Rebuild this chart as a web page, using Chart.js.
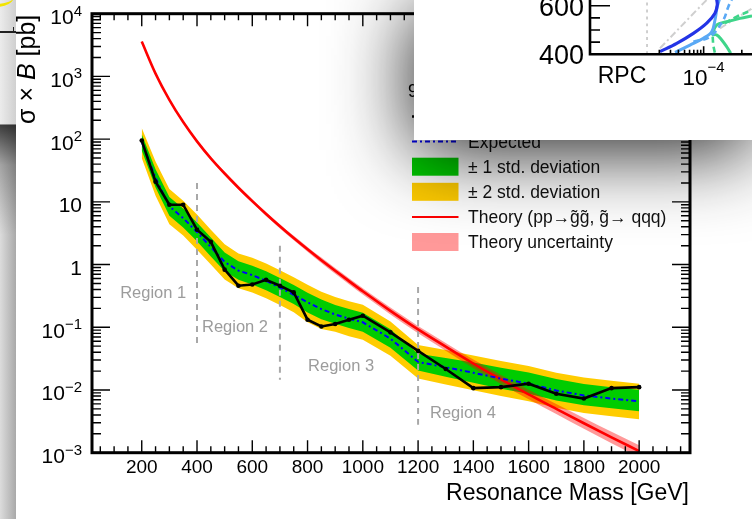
<!DOCTYPE html>
<html>
<head>
<meta charset="utf-8">
<script src="https://cdn.jsdelivr.net/npm/chart.js@4/dist/chart.umd.min.js"></script>
<style>
  html, body { margin: 0; padding: 0; background: #fff; overflow: hidden; }
  #wrap { position: relative; width: 752px; height: 519px; overflow: hidden; }
  #main { position: absolute; left: 0; top: 0; }
  #strip {
    position: absolute; left: 0; top: 0; width: 16px; height: 519px;
    background:
      linear-gradient(to bottom, rgba(0,0,0,0) 0, rgba(0,0,0,0) 124px, rgba(0,0,0,0.72) 125px, rgba(0,0,0,0.25) 165px, rgba(0,0,0,0) 235px),
      linear-gradient(to bottom, rgba(255,255,255,0.45) 0, rgba(255,255,255,0.45) 124px, rgba(255,255,255,0) 125px),
      linear-gradient(to right, #dcdcdc, #a9a9a9);
  }
  #stripLine { position: absolute; left: 0; top: 31px; width: 16px; height: 1.5px; background: #222; }
  #stripTick { position: absolute; left: 13px; top: 27px; width: 1px; height: 5px; background: #222; }
  #corner { position: absolute; left: -22px; top: -14px; width: 36px; height: 18px; border-radius: 50%; border-bottom: 3px solid #f2e400; }
  #panel {
    position: absolute; left: 414px; top: 0; width: 338px; height: 140px; background: #fff;
    box-shadow: 0 10px 80px rgba(0,0,0,0.9);
  }
  #inset { position: absolute; left: 0; top: 0; }
</style>
</head>
<body>
<div id="wrap">
  <canvas id="main" width="752" height="519"></canvas>
  <div id="strip"></div>
  <div id="stripLine"></div>
  <div id="stripTick"></div>
  <div id="corner"></div>
  <div id="panel"><canvas id="inset" width="338" height="140"></canvas></div>
</div>
<script>
// ---------- limit plot data ----------
const masses   = [200, 250, 300, 350, 400, 450, 500, 550, 600, 650, 700, 750, 800, 850, 900, 950, 1000, 1100, 1200, 1300, 1400, 1500, 1600, 1700, 1800, 1900, 2000];
const observed = [95, 21, 9.0, 9.0, 3.6, 2.3, 0.83, 0.46, 0.48, 0.57, 0.46, 0.36, 0.132, 0.103, 0.113, 0.132, 0.153, 0.083, 0.042, 0.0216, 0.0107, 0.0111, 0.0126, 0.0087, 0.0073, 0.0107, 0.0111];
const expected = [90, 24, 8.5, 5.5, 3.3, 1.9, 1.1, 0.80, 0.68, 0.55, 0.43, 0.33, 0.25, 0.195, 0.16, 0.137, 0.12, 0.066, 0.028, 0.023, 0.0188, 0.0152, 0.0126, 0.0098, 0.0082, 0.0073, 0.0066];
const plus1    = [120, 33, 12.0, 7.8, 4.7, 2.7, 1.56, 1.13, 0.96, 0.78, 0.61, 0.47, 0.355, 0.277, 0.227, 0.195, 0.170, 0.093, 0.038, 0.0325, 0.0275, 0.0226, 0.0190, 0.0149, 0.0125, 0.0111, 0.0101];
const minus1   = [66, 17, 6.0, 3.9, 2.35, 1.35, 0.78, 0.57, 0.48, 0.39, 0.305, 0.235, 0.172, 0.134, 0.114, 0.097, 0.085, 0.047, 0.0205, 0.0163, 0.0131, 0.0105, 0.0087, 0.0068, 0.0057, 0.0051, 0.0046];
const plus2    = [150, 44, 16, 10.4, 6.3, 3.6, 2.1, 1.5, 1.28, 1.04, 0.81, 0.63, 0.475, 0.37, 0.305, 0.26, 0.228, 0.124, 0.052, 0.0435, 0.0355, 0.0290, 0.0242, 0.0189, 0.0158, 0.0140, 0.0126];
const minus2   = [50, 12.5, 4.4, 2.9, 1.72, 1.0, 0.58, 0.42, 0.36, 0.29, 0.226, 0.174, 0.12, 0.094, 0.085, 0.072, 0.063, 0.035, 0.0152, 0.0122, 0.0099, 0.0080, 0.0066, 0.0052, 0.0043, 0.0038, 0.0034];
const theory     = [3600, 1109, 423, 187, 92.2, 49.4, 28.3, 16.8, 10.28, 6.41, 4.08, 2.65, 1.754, 1.175, 0.796, 0.545, 0.375, 0.183, 0.0925, 0.0490, 0.0263, 0.0148, 0.00851, 0.00501, 0.00295, 0.00176, 0.00106];
const theoryUp   = [3740, 1154, 441, 195.5, 96.6, 51.9, 29.9, 17.9, 11.0, 6.89, 4.40, 2.87, 1.91, 1.29, 0.878, 0.604, 0.418, 0.206, 0.105, 0.0562, 0.0305, 0.0173, 0.0101, 0.0060, 0.00357, 0.00215, 0.00131];
const theoryDown = [3460, 1064, 405, 178.5, 87.8, 46.9, 26.7, 15.7, 9.56, 5.93, 3.76, 2.43, 1.60, 1.06, 0.714, 0.486, 0.332, 0.160, 0.080, 0.0423, 0.0225, 0.0125, 0.00711, 0.00413, 0.00240, 0.00141, 0.00084];

// analysis region boundaries and their labels
const regionX      = [400, 700, 1200];
const regionTop    = [20, 2.0, 0.44];
const regionBottom = [0.053, 0.0146, 0.0028];
const regionNames  = ['Region 1', 'Region 2', 'Region 3', 'Region 4'];
const regionLabelX = [122, 418, 802, 1243];
const regionLabelY = [0.356, 0.102, 0.0244, 0.00434];

// axis ticks
const xTickLabels = [200, 400, 600, 800, 1000, 1200, 1400, 1600, 1800, 2000];
const yTickValues = [1e-3, 1e-2, 1e-1, 1, 10, 1e2, 1e3, 1e4];
const yTickBase   = ['10', '10', '10', '1', '10', '10', '10', '10'];
const yTickExp    = ['\u22123', '\u22122', '\u22121', '', '', '2', '3', '4'];

// legend entries
const legendHeader = '95% CL upper limits';
const legendLabels = ['Observed', 'Expected', '\u00b1 1 std. deviation', '\u00b1 2 std. deviation',
                      'Theory (pp\u2192g\u0303g\u0303, g\u0303\u2192 qqq)', 'Theory uncertainty'];

// ---------- inset (efficiency panel) data ----------
const rpcDarkX = [2.05e-5, 3.77e-5, 6.89e-5, 1.12e-4, 1.51e-4, 1.64e-4, 1.61e-4];
const rpcDarkY = [411, 445, 486, 528, 569, 603, 625];
const rpcLightX = [3.54e-5, 6.1e-5, 9.9e-5, 1.34e-4, 1.51e-4, 1.64e-4, 1.77e-4];
const rpcLightY = [408, 438, 466, 493, 541, 596, 625];
const rpcLightDashX = [6.89e-5, 1.26e-4, 2.04e-4, 2.45e-4, 2.77e-4];
const rpcLightDashY = [452, 472, 541, 596, 625];
const rpcGreenX = [1.34e-4, 1.61e-4, 2.31e-4, 3.75e-4, 5.8e-4];
const rpcGreenY = [479, 521, 534, 548, 558];
const rpcGreen2X = [1.34e-4, 1.6e-4, 1.93e-4, 2.31e-4, 2.67e-4];
const rpcGreen2Y = [479, 480, 459, 431, 404];
const rpcGreenDashX = [1.39e-4, 1.42e-4, 1.51e-4];
const rpcGreenDashY = [472, 438, 404];
const rpcGreenDash2X = [2.17e-4, 3.33e-4, 5.8e-4];
const rpcGreenDash2Y = [528, 555, 582];
const rpcGrayX = [2.05e-5, 8.77e-5, 1.13e-4];
const rpcGrayY = [425, 596, 625];
const rpcGray2X = [1.81e-4, 5.8e-4];
const rpcGray2Y = [507, 589];
const rpcCut = 1.28e-5;
const rpcYTicks = [450, 500, 550, 600];
const rpcXTicks = [2e-5, 3e-5, 4e-5, 5e-5, 6e-5, 7e-5, 8e-5, 9e-5, 1e-4, 4e-4];

const FONT = "'Liberation Sans', Arial, Helvetica, sans-serif";
const pts = (xs, ys) => xs.map((x, i) => ({ x: x, y: ys[i] }));
const massPts = ys => pts(masses, ys);

const YELLOW = '#ffcc00', GREEN = '#00cc00', PINK = 'rgba(255,0,0,0.4)';

function band(upper, lower, color, order) {
  return [
    { data: massPts(upper), fill: { target: '+1' }, backgroundColor: color, borderWidth: 0, pointRadius: 0, order: order },
    { data: massPts(lower), fill: false, borderWidth: 0, pointRadius: 0, order: order + 1 }
  ];
}

const datasets = [
  ...band(plus2, minus2, YELLOW, 20),
  ...band(plus1, minus1, GREEN, 18),
  { data: massPts(theoryUp), fill: { target: '+1' }, backgroundColor: PINK, borderWidth: 0, pointRadius: 0,
    cubicInterpolationMode: 'monotone', order: 14 },
  { data: massPts(theoryDown), fill: false, borderWidth: 0, pointRadius: 0, cubicInterpolationMode: 'monotone', order: 15 },
  ...regionX.map((rx, i) => ({
    data: [{ x: rx, y: regionTop[i] }, { x: rx, y: regionBottom[i] }],
    borderColor: '#a8a8a8', borderWidth: 2, borderDash: [6, 5], pointRadius: 0, fill: false, order: 10
  })),
  { data: massPts(theory), borderColor: '#ff0000', borderWidth: 2.6, pointRadius: 0, fill: false,
    cubicInterpolationMode: 'monotone', order: 6 },
  { data: massPts(expected), borderColor: '#0000ff', borderWidth: 2, borderDash: [5, 3, 2, 3], pointRadius: 0, fill: false, order: 4 },
  { data: massPts(observed), borderColor: '#000', borderWidth: 2.6, pointRadius: 2.3, pointBackgroundColor: '#000',
    pointBorderWidth: 0, fill: false, order: 1 }
];

// axes, tick marks, labels, region labels and legend
const rootAxes = {
  id: 'rootAxes',
  afterDraw(chart) {
    const { ctx, chartArea: a, scales: { x, y } } = chart;
    ctx.save();
    ctx.strokeStyle = '#000';
    ctx.lineWidth = 1.4;
    ctx.beginPath();
    for (let m = 50; m <= 2150; m += 50) {
      const px = x.getPixelForValue(m);
      const len = (m % 200 === 0) ? 12.5 : 6.5;
      ctx.moveTo(px, a.bottom); ctx.lineTo(px, a.bottom - len);
      ctx.moveTo(px, a.top); ctx.lineTo(px, a.top + len);
    }
    for (let e = -3; e <= 4; e++) {
      for (let k = 1; k <= 9; k++) {
        if (e === 4 && k > 1) break;
        const py = y.getPixelForValue(k * Math.pow(10, e));
        const len = k === 1 ? 18 : 9;
        ctx.moveTo(a.left, py); ctx.lineTo(a.left + len, py);
        ctx.moveTo(a.right, py); ctx.lineTo(a.right - len, py);
      }
    }
    ctx.stroke();
    ctx.lineWidth = 3;
    ctx.strokeRect(a.left, a.top, a.right - a.left, a.bottom - a.top);

    // x tick labels
    ctx.fillStyle = '#000';
    ctx.font = '19px ' + FONT;
    ctx.textAlign = 'center';
    ctx.textBaseline = 'alphabetic';
    xTickLabels.forEach(v => ctx.fillText(String(v), x.getPixelForValue(v), 472.5));

    // y tick labels with exponents
    ctx.textAlign = 'right';
    yTickValues.forEach((v, i) => {
      const py = y.getPixelForValue(v);
      const right = 82;
      ctx.font = '15px ' + FONT;
      const ew = yTickExp[i] ? ctx.measureText(yTickExp[i]).width : 0;
      if (yTickExp[i]) ctx.fillText(yTickExp[i], right, py + 2);
      ctx.font = '21px ' + FONT;
      ctx.fillText(yTickBase[i], right - ew, py + 10.5);
    });

    // axis titles
    ctx.font = '23px ' + FONT;
    ctx.textAlign = 'right';
    ctx.fillText('Resonance Mass [GeV]', a.right - 1, 500);

    ctx.save();
    ctx.translate(34.5, a.top + 1);
    ctx.rotate(-Math.PI / 2);
    ctx.textAlign = 'left';
    const parts = [['\u03c3 \u00d7 ', ''], ['B', 'italic '], [' [pb]', '']];
    let total = 0;
    parts.forEach(p => { ctx.font = p[1] + '25px ' + FONT; total += ctx.measureText(p[0]).width; });
    let cx = -total;
    parts.forEach(p => { ctx.font = p[1] + '25px ' + FONT; ctx.fillText(p[0], cx, 0); cx += ctx.measureText(p[0]).width; });
    ctx.restore();

    // region labels
    ctx.fillStyle = '#9c9c9c';
    ctx.font = '16.5px ' + FONT;
    ctx.textAlign = 'left';
    ctx.textBaseline = 'middle';
    regionNames.forEach((n, i) => ctx.fillText(n, x.getPixelForValue(regionLabelX[i]), y.getPixelForValue(regionLabelY[i]) + 1));

    // legend
    const lx = 412, lw = 46.5, tx = 468, row0 = 116.5, dy = 25.1;
    ctx.fillStyle = '#000';
    ctx.font = '17.5px ' + FONT;
    ctx.textBaseline = 'alphabetic';
    ctx.fillText(legendHeader, 408, 97);
    legendLabels.forEach((t, i) => {
      const cy = row0 + i * dy;
      if (i === 0) {
        ctx.strokeStyle = '#000'; ctx.lineWidth = 2.6; ctx.setLineDash([]);
        ctx.beginPath(); ctx.moveTo(lx, cy); ctx.lineTo(lx + lw, cy); ctx.stroke();
        ctx.beginPath(); ctx.arc(lx + lw / 2, cy, 2.5, 0, Math.PI * 2); ctx.fillStyle = '#000'; ctx.fill();
      } else if (i === 1) {
        ctx.strokeStyle = '#0000ff'; ctx.lineWidth = 2; ctx.setLineDash([5, 3, 2, 3]);
        ctx.beginPath(); ctx.moveTo(lx, cy); ctx.lineTo(lx + lw, cy); ctx.stroke();
        ctx.setLineDash([]);
      } else if (i === 2) {
        ctx.fillStyle = GREEN; ctx.fillRect(lx, cy - 9, lw, 18);
      } else if (i === 3) {
        ctx.fillStyle = YELLOW; ctx.fillRect(lx, cy - 9, lw, 18);
      } else if (i === 4) {
        ctx.strokeStyle = '#ff0000'; ctx.lineWidth = 2;
        ctx.beginPath(); ctx.moveTo(lx, cy); ctx.lineTo(lx + lw, cy); ctx.stroke();
      } else {
        ctx.fillStyle = PINK; ctx.fillRect(lx, cy - 9, lw, 18);
      }
      ctx.fillStyle = '#111';
      ctx.font = '17.5px ' + FONT;
      ctx.fillText(t, tx, cy + 6.3);
    });
    ctx.restore();
  }
};

new Chart(document.getElementById('main'), {
  type: 'line',
  data: { datasets: datasets },
  options: {
    responsive: false,
    animation: false,
    events: [],
    layout: { padding: { left: 92, top: 13.7, right: 62, bottom: 66.3 } },
    plugins: { legend: { display: false }, tooltip: { enabled: false } },
    elements: { line: { tension: 0 } },
    scales: {
      x: { type: 'linear', min: 20, max: 2184, display: false },
      y: { type: 'logarithmic', min: 1e-3, max: 1e4, display: false }
    }
  },
  plugins: [rootAxes]
});

// ---------- inset panel ----------
const insetAxes = {
  id: 'insetAxes',
  afterDraw(chart) {
    const { ctx, chartArea: a, scales: { x, y } } = chart;
    ctx.save();
    ctx.strokeStyle = '#000';
    ctx.lineWidth = 1.6;
    ctx.beginPath();
    rpcYTicks.forEach(v => {
      const py = y.getPixelForValue(v);
      const len = v === 600 ? 20 : 10;
      ctx.moveTo(a.left, py); ctx.lineTo(a.left + len, py);
    });
    rpcXTicks.forEach(v => {
      const px = x.getPixelForValue(v);
      const len = v === 1e-4 ? 8 : 4.5;
      ctx.moveTo(px, a.bottom); ctx.lineTo(px, a.bottom - len);
    });
    ctx.stroke();
    ctx.lineWidth = 2.6;
    ctx.beginPath();
    ctx.moveTo(a.left, 0); ctx.lineTo(a.left, a.bottom); ctx.lineTo(chart.width, a.bottom);
    ctx.stroke();

    ctx.fillStyle = '#000';
    ctx.textBaseline = 'alphabetic';
    ctx.textAlign = 'right';
    ctx.font = '27px ' + FONT;
    ctx.fillText('600', a.left - 6, y.getPixelForValue(600) + 10.5);
    ctx.fillText('400', a.left - 6, y.getPixelForValue(400) + 10);
    ctx.textAlign = 'center';
    ctx.font = '23px ' + FONT;
    ctx.fillText('RPC', 208, 83);
    const cx = x.getPixelForValue(1e-4);
    ctx.font = '22.5px ' + FONT;
    const bw = ctx.measureText('10').width;
    ctx.font = '15px ' + FONT;
    const ew = ctx.measureText('\u22124').width;
    const left = cx - (bw + ew) / 2;
    ctx.textAlign = 'left';
    ctx.fillText('\u22124', left + bw, 72);
    ctx.font = '22.5px ' + FONT;
    ctx.fillText('10', left, 85);
    ctx.restore();
  }
};

const lineSet = (xs, ys, color, width, dash, order) => ({
  data: pts(xs, ys), borderColor: color, borderWidth: width, borderDash: dash || [], pointRadius: 0,
  fill: false, tension: 0.35, order: order
});

new Chart(document.getElementById('inset'), {
  type: 'line',
  data: {
    datasets: [
      lineSet([rpcCut, rpcCut], [400, 625], '#c4c4c4', 1.6, [3, 4], 9),
      lineSet(rpcGrayX, rpcGrayY, '#cfcfcf', 2, [7, 3, 2, 3], 8),
      lineSet(rpcGray2X, rpcGray2Y, '#cfcfcf', 2, [7, 3, 2, 3], 8),
      lineSet(rpcGreenDashX, rpcGreenDashY, '#3fd58a', 2.6, [6, 4], 6),
      lineSet(rpcGreenDash2X, rpcGreenDash2Y, '#3fd58a', 2.6, [6, 4], 6),
      lineSet(rpcGreenX, rpcGreenY, '#3fd58a', 3, null, 5),
      lineSet(rpcGreen2X, rpcGreen2Y, '#3fd58a', 3, null, 5),
      lineSet(rpcLightDashX, rpcLightDashY, '#5aa9f5', 2.6, [6, 4], 4),
      lineSet(rpcLightX, rpcLightY, '#5aa9f5', 3, null, 3),
      lineSet(rpcDarkX, rpcDarkY, '#2334e6', 3.2, null, 2)
    ]
  },
  options: {
    responsive: false,
    animation: false,
    events: [],
    layout: { padding: { left: 176, top: 0, right: 0, bottom: 85.7 } },
    plugins: { legend: { display: false }, tooltip: { enabled: false } },
    scales: {
      x: { type: 'logarithmic', min: 1.614e-6, max: 5.79e-4, display: false },
      y: { type: 'linear', min: 400, max: 623.5, display: false }
    }
  },
  plugins: [insetAxes]
});
</script>
</body>
</html>
